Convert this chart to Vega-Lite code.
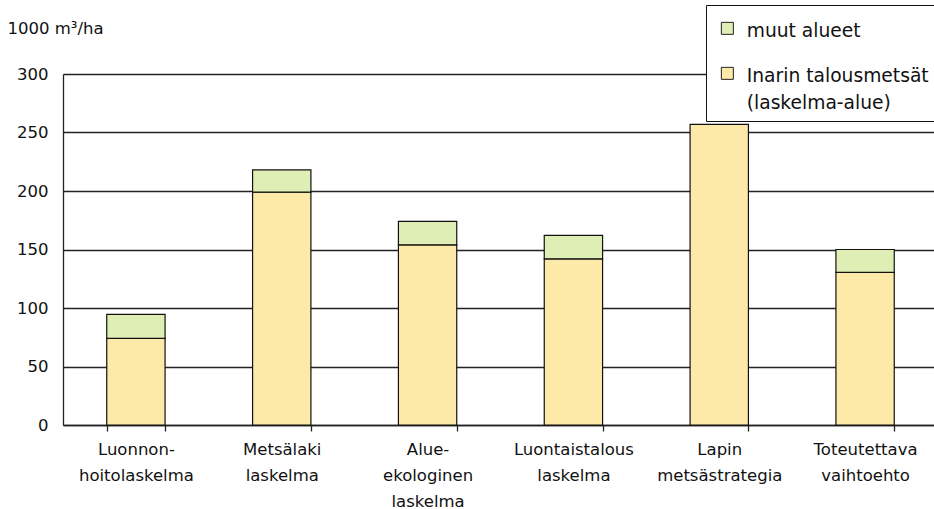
{
  "$schema": "https://vega.github.io/schema/vega-lite/v6.json",
  "width": 875,
  "height": 351,
  "autosize": {"type": "none"},
  "padding": {"left": 63, "top": 74, "right": 0, "bottom": 84},
  "background": "white",
  "config": {
    "font": "DejaVu Sans",
    "view": {"stroke": null},
    "style": {"guide-label": {"lineHeight": 26.5}}
  },
  "data": {
    "values": [
      {"cat": "Luonnon-|hoitolaskelma", "series": "Inarin talousmetsät|(laskelma-alue)", "value": 74},
      {"cat": "Luonnon-|hoitolaskelma", "series": "muut alueet", "value": 20.5},
      {"cat": "Metsälaki|laskelma", "series": "Inarin talousmetsät|(laskelma-alue)", "value": 199},
      {"cat": "Metsälaki|laskelma", "series": "muut alueet", "value": 19},
      {"cat": "Alue-|ekologinen|laskelma", "series": "Inarin talousmetsät|(laskelma-alue)", "value": 154},
      {"cat": "Alue-|ekologinen|laskelma", "series": "muut alueet", "value": 20},
      {"cat": "Luontaistalous|laskelma", "series": "Inarin talousmetsät|(laskelma-alue)", "value": 142},
      {"cat": "Luontaistalous|laskelma", "series": "muut alueet", "value": 20},
      {"cat": "Lapin|metsästrategia", "series": "Inarin talousmetsät|(laskelma-alue)", "value": 257},
      {"cat": "Toteutettava|vaihtoehto", "series": "Inarin talousmetsät|(laskelma-alue)", "value": 130.5},
      {"cat": "Toteutettava|vaihtoehto", "series": "muut alueet", "value": 19.5}
    ]
  },
  "mark": {"type": "bar", "stroke": "#111", "strokeWidth": 1.2},
  "encoding": {
    "x": {
      "field": "cat",
      "type": "nominal",
      "sort": ["Luonnon-|hoitolaskelma", "Metsälaki|laskelma", "Alue-|ekologinen|laskelma", "Luontaistalous|laskelma", "Lapin|metsästrategia", "Toteutettava|vaihtoehto"],
      "scale": {"paddingInner": 0.6, "paddingOuter": 0.3},
      "axis": {
        "title": null,
        "labelAngle": 0,
        "labelExpr": "split(datum.label, '|')",
        "labelFont": "DejaVu Sans",
        "labelFontSize": 16.5,
        "labelColor": "#111",
        "labelLineHeight": 26,
        "labelPadding": 10,
        "labelLimit": 0,
        "tickBand": "extent",
        "ticks": true,
        "tickSize": 6,
        "tickColor": "#222",
        "tickWidth": 1.3,
        "domainColor": "#222",
        "domainWidth": 1.3,
        "grid": false
      }
    },
    "y": {
      "field": "value",
      "type": "quantitative",
      "stack": "zero",
      "scale": {"domain": [0, 300], "nice": false},
      "axis": {
        "values": [0, 50, 100, 150, 200, 250, 300],
        "title": "1000 m³/ha",
        "titleAngle": 0,
        "titleAlign": "left",
        "titleBaseline": "alphabetic",
        "titleX": -56,
        "titleY": -41,
        "titleFont": "DejaVu Sans",
        "titleFontSize": 16.5,
        "titleFontWeight": "normal",
        "titleColor": "#111",
        "labelFont": "DejaVu Sans",
        "labelFontSize": 16.5,
        "labelColor": "#111",
        "labelPadding": 15,
        "ticks": false,
        "grid": true,
        "gridColor": "#222",
        "gridWidth": 1.3,
        "domainColor": "#222",
        "domainWidth": 1.3
      }
    },
    "fill": {
      "field": "series",
      "type": "nominal",
      "scale": {
        "domain": ["muut alueet", "Inarin talousmetsät|(laskelma-alue)"],
        "range": ["#DFEEB4", "#FDE9A8"]
      },
      "legend": {
        "title": null,
        "orient": "none",
        "legendX": 643,
        "legendY": -69,
        "fillColor": "white",
        "strokeColor": "#111",
        "padding": 8,
        "symbolOffset": 4,
        "symbolType": "M-1,0H1V2H-1Z",
        "symbolSize": 144,
        "symbolStrokeColor": "#222",
        "symbolStrokeWidth": 1,
        "symbolOpacity": 1,
        "labelExpr": "split(datum.label, '|')",
        "labelFont": "DejaVu Sans",
        "labelFontSize": 18.7,
        "labelColor": "#111",
        "labelBaseline": "top",
        "labelOffset": 10,
        "labelLimit": 0,
        "rowPadding": 16
      }
    },
    "order": {"field": "series", "sort": "ascending"}
  }
}
